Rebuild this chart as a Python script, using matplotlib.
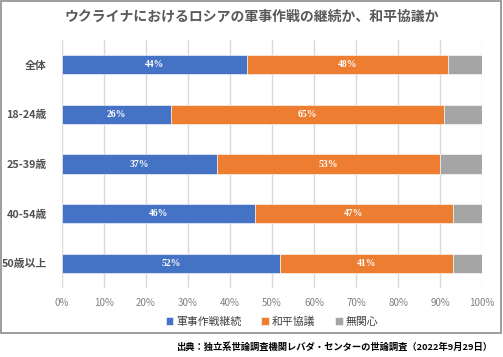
import matplotlib.pyplot as plt
from matplotlib.patches import Rectangle

plt.rcParams['font.family'] = ['Noto Sans CJK JP', 'DejaVu Sans']

categories = ['全体', '18-24歳', '25-39歳', '40-54歳', '50歳以上']
continue_ops = [44, 26, 37, 46, 52]
peace_talks = [48, 65, 53, 47, 41]
no_interest = [8, 9, 10, 7, 7]
series_names = ['軍事作戦継続', '和平協議', '無関心']
colors = ['#4472C4', '#ED7D31', '#A5A5A5']
xticks = [0, 10, 20, 30, 40, 50, 60, 70, 80, 90, 100]

fig = plt.figure(figsize=(5.03, 3.57), dpi=100)
ax = fig.add_axes([0.1233, 0.193, 0.835, 0.695])

y = list(range(len(categories)))
left = [0] * len(categories)
for name, vals, col in zip(series_names, [continue_ops, peace_talks, no_interest], colors):
    ax.barh(y, vals, left=left, height=0.39, color=col, label=name,
            edgecolor='white', linewidth=0.4, zorder=3)
    if name != '無関心':
        for yi, l, v in zip(y, left, vals):
            ax.text(l + v / 2, yi, f'{v}%', ha='center', va='center', color='white',
                    fontsize=7, fontweight='bold', family='Liberation Serif', zorder=4)
    left = [a + b for a, b in zip(left, vals)]

ax.set_xlim(0, 100)
ax.set_ylim(4.5, -0.5)
ax.set_xticks(xticks)
ax.set_xticklabels([f'{t}%' for t in xticks])
ax.set_yticks(y)
ax.set_yticklabels(categories, fontweight='bold')
ax.tick_params(axis='x', length=0, pad=7, labelsize=7, labelcolor='#7f7f7f')
ax.tick_params(axis='y', length=0, pad=11, labelsize=7.8, labelcolor='#505050')
ax.grid(axis='x', color='#d9d9d9', linewidth=1, zorder=0)
for s in ax.spines.values():
    s.set_visible(False)

ax.legend(loc='center', bbox_to_anchor=(0.5, -0.135), ncol=3, frameon=False,
          fontsize=7.8, handlelength=0.7, handleheight=0.7, handletextpad=0.3,
          columnspacing=1.8, labelcolor='#404040')

fig.text(0.5, 0.953, 'ウクライナにおけるロシアの軍事作戦の継続か、和平協議か',
         ha='center', va='center', fontsize=10, fontweight='bold', color='#595959')
fig.text(0.978, 0.028, '出典：独立系世論調査機関レバダ・センターの世論調査（2022年9月29日）',
         ha='right', va='center', fontsize=6.7, fontweight='bold', color='#000000')

fig.patches.append(Rectangle((0.002, 0.066), 0.994, 0.931, transform=fig.transFigure,
                             fill=False, edgecolor='#8c8c8c', linewidth=1.2))

fig.savefig('out.png', dpi=100)
